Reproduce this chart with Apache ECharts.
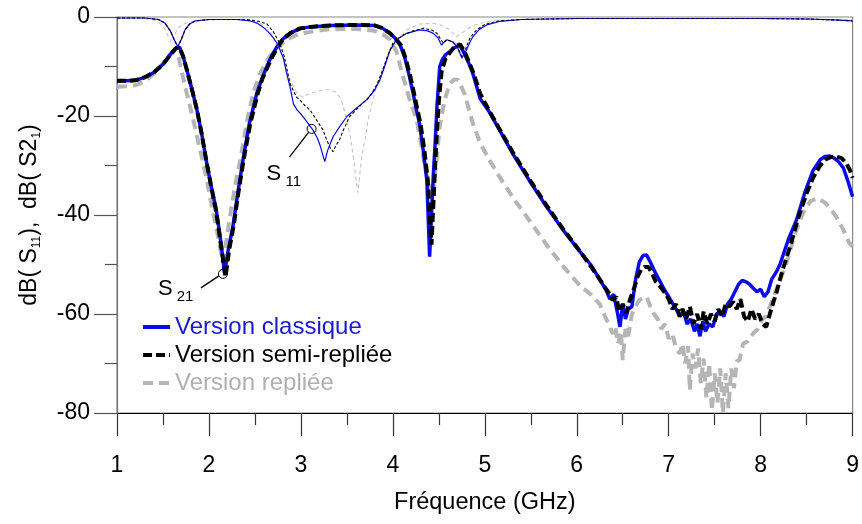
<!DOCTYPE html>
<html><head><meta charset="utf-8">
<script src="https://cdn.jsdelivr.net/npm/echarts@6/dist/echarts.min.js"></script>
<style>html,body{margin:0;padding:0;background:#fff}#c{width:862px;height:524px}</style>
</head><body><div id="c"></div>
<script>
// ---- data (frequency in GHz, magnitude in dB) ----
const seriesNames = ['Version classique', 'Version semi-repliée', 'Version repliée'];
const xTicks = [1, 2, 3, 4, 5, 6, 7, 8, 9];
const yTicks = [-80, -60, -40, -20, 0];

// S21 - Version classique
const s21ClassiqueF = [1.00,1.10,1.20,1.30,1.40,1.50,1.58,1.64,1.68,1.72,1.76,1.82,1.87,1.92,1.97,2.02,2.08,2.13,2.17,2.21,2.26,2.31,2.37,2.44,2.52,2.58,2.63,2.68,2.74,2.80,2.88,2.98,3.10,3.32,3.60,3.80,3.88,3.97,4.03,4.08,4.13,4.18,4.22,4.26,4.29,4.33,4.37,4.40,4.42,4.44,4.46,4.48,4.51,4.54,4.58,4.62,4.67,4.73,4.78,4.83,4.87,4.95,5.05,5.15,5.31,5.50,5.67,5.85,6.03,6.15,6.25,6.32,6.36,6.40,6.44,6.47,6.50,6.53,6.56,6.60,6.64,6.68,6.72,6.76,6.80,6.85,6.90,6.95,7.00,7.04,7.08,7.12,7.16,7.20,7.24,7.28,7.31,7.34,7.37,7.40,7.44,7.48,7.52,7.56,7.60,7.64,7.68,7.72,7.76,7.80,7.84,7.88,7.92,7.96,8.00,8.04,8.08,8.12,8.17,8.21,8.30,8.39,8.48,8.57,8.65,8.70,8.75,8.80,8.85,8.90,8.95,9.00];
const s21ClassiqueDb = [-12.9,-12.9,-12.8,-12.2,-11.2,-9.6,-7.6,-6.3,-6.1,-8.0,-10.7,-15,-18.8,-23.5,-28.9,-33.8,-39,-45.5,-51.7,-47,-42.4,-36,-28.9,-21.5,-15.4,-12.3,-10,-7.9,-6,-4.5,-3.3,-2.4,-2.0,-1.7,-1.6,-1.7,-2.2,-3.3,-4.4,-5.7,-8.2,-12,-15.4,-19,-21.5,-26.9,-33,-48.4,-40,-32,-25.5,-18,-10,-8.5,-7.5,-7.0,-6.2,-5.7,-7.5,-9.5,-11.4,-16.5,-19.2,-22.5,-27.8,-33.5,-38.3,-43,-47.3,-50,-53,-55.2,-57,-56,-59.5,-62.6,-58,-61,-59,-58.5,-53,-49.5,-48.2,-48.1,-49.5,-51.5,-53.2,-55,-56.5,-57.8,-59,-60.5,-59.5,-62,-61,-63.5,-62,-64.5,-61.5,-63.5,-62,-62.6,-60,-59.5,-60.5,-58,-57,-55.5,-54,-53.2,-53.5,-54,-54.8,-55.5,-55,-56.5,-55.5,-53,-51.5,-50,-45,-41,-35.5,-31,-28.8,-28.2,-28.1,-28.5,-29.3,-30.5,-33.2,-36.3];

// S21 - Version semi-repliée
const s21SemiF = [1.00,1.10,1.20,1.30,1.40,1.50,1.58,1.64,1.68,1.72,1.76,1.82,1.87,1.92,1.97,2.02,2.08,2.13,2.18,2.22,2.27,2.32,2.38,2.45,2.53,2.58,2.64,2.69,2.75,2.81,2.89,2.99,3.10,3.32,3.60,3.80,3.88,3.97,4.03,4.09,4.14,4.19,4.23,4.27,4.30,4.34,4.38,4.42,4.44,4.46,4.48,4.50,4.53,4.57,4.62,4.67,4.73,4.78,4.83,4.88,4.95,5.05,5.15,5.31,5.50,5.67,5.85,6.03,6.15,6.25,6.32,6.36,6.39,6.43,6.46,6.50,6.54,6.58,6.62,6.66,6.70,6.74,6.78,6.82,6.86,6.91,6.97,7.00,7.04,7.08,7.12,7.15,7.19,7.23,7.27,7.31,7.35,7.38,7.42,7.46,7.50,7.54,7.58,7.62,7.66,7.70,7.74,7.78,7.82,7.86,7.90,7.94,7.98,8.02,8.06,8.10,8.14,8.17,8.24,8.32,8.41,8.50,8.57,8.64,8.70,8.76,8.82,8.88,8.93,8.97,9.00];
const s21SemiDb = [-12.9,-12.9,-12.8,-12.2,-11.2,-9.6,-7.6,-6.3,-6.2,-8.0,-10.7,-15,-18.8,-23.5,-28.9,-33.8,-39.5,-46,-52.5,-47,-42,-35.5,-28.5,-21.5,-15.5,-12.5,-10,-8,-6,-4.4,-3.2,-2.3,-2.0,-1.7,-1.6,-1.7,-2.2,-3.3,-4.4,-5.7,-8.4,-12,-15.4,-19,-21.5,-26.5,-33,-46,-38,-30,-23,-17,-11,-8.5,-7.2,-6.0,-5.5,-7.0,-9.2,-11.5,-15.5,-19,-22.3,-27.5,-33.2,-38,-42.8,-47.2,-50.3,-53,-55,-56,-57.2,-56.5,-59.5,-58,-59.8,-57,-55,-52.5,-51,-50.5,-50.5,-51.8,-53.5,-54.5,-56,-57,-59,-58,-60.5,-59,-61,-58.5,-62,-60,-63,-59.5,-62,-60,-61.5,-59,-60.5,-58,-58.5,-57.5,-59,-57,-60.5,-61.5,-59,-61,-60,-62,-62.6,-60,-57.5,-55.8,-51,-46.4,-40.5,-35.6,-32.5,-30.2,-28.8,-28.3,-28.2,-28.5,-29.5,-30.9,-32.5];

// S21 - Version repliée
const s21ReplieeF = [1.00,1.10,1.20,1.30,1.40,1.50,1.57,1.63,1.67,1.70,1.76,1.83,1.90,1.97,2.04,2.10,2.15,2.19,2.24,2.29,2.34,2.41,2.48,2.56,2.66,2.75,2.84,2.97,3.10,3.30,3.60,3.80,3.90,3.97,4.04,4.11,4.18,4.26,4.32,4.37,4.43,4.47,4.51,4.56,4.62,4.67,4.71,4.78,4.87,4.95,5.05,5.15,5.31,5.50,5.67,5.85,6.03,6.15,6.25,6.32,6.36,6.39,6.42,6.45,6.48,6.50,6.53,6.56,6.60,6.64,6.68,6.72,6.76,6.80,6.84,6.88,6.92,6.96,7.00,7.04,7.08,7.12,7.15,7.18,7.21,7.23,7.26,7.29,7.32,7.35,7.38,7.41,7.44,7.47,7.50,7.53,7.56,7.59,7.62,7.65,7.68,7.71,7.74,7.77,7.81,7.86,7.92,7.97,8.02,8.06,8.10,8.19,8.28,8.37,8.46,8.54,8.62,8.70,8.76,8.82,8.90,8.96,9.00];
const s21ReplieeDb = [-14.1,-14,-13.8,-13,-11.5,-9.3,-7.6,-6.7,-8.2,-10.7,-15.5,-20.8,-26.5,-32.3,-39,-44.5,-49.5,-45,-39,-33.5,-28.9,-21.5,-15.4,-11.2,-8,-6,-4.6,-3.5,-3.0,-2.5,-2.4,-2.8,-3.6,-4.6,-7,-12,-16.5,-20.8,-27,-32.3,-36.3,-30,-22,-17,-13.4,-12.6,-12.7,-15.5,-21.5,-25.5,-28.9,-32,-36.6,-41.5,-46,-50.3,-54.2,-56,-58,-61,-62.5,-64,-62.5,-66,-63.5,-69.3,-63,-64.5,-60,-58.5,-57.2,-56.8,-56.5,-58.5,-60,-61,-63,-62,-65,-64,-67,-68,-66,-70,-66.5,-75.4,-68,-71,-67,-74,-69,-77,-70,-79.5,-72,-78,-71,-80,-72,-79,-71,-75,-69.5,-69.3,-66,-65.5,-63.9,-63,-61,-60.5,-58.5,-54,-49.8,-44,-39.6,-37.2,-36.6,-37.5,-38.8,-40.3,-43,-45.5,-46.4];

// S11 - Version classique
const s11ClassiqueF = [1.00,1.30,1.45,1.52,1.58,1.62,1.66,1.70,1.74,1.79,1.85,2.00,2.30,2.45,2.53,2.60,2.66,2.70,2.74,2.77,2.81,2.84,2.88,2.92,2.96,3.00,3.05,3.13,3.18,3.21,3.24,3.26,3.29,3.35,3.42,3.50,3.60,3.71,3.80,3.86,3.92,3.97,4.04,4.15,4.29,4.38,4.44,4.49,4.53,4.56,4.59,4.65,4.70,4.75,4.80,4.84,4.87,4.94,5.02,5.16,5.40,6.00,7.00,8.00,8.50,8.80,9.00];
const s11ClassiqueDb = [-0.2,-0.2,-0.5,-1.2,-2.8,-4.5,-6.0,-4.5,-2.6,-1.4,-0.8,-0.5,-0.5,-0.8,-1.3,-2.2,-3.3,-4.2,-5.3,-6.5,-8.3,-11,-14,-17.6,-18.8,-19.6,-20.8,-22.8,-24.5,-26,-28,-29.2,-27,-24.2,-22.2,-20.1,-18.5,-16.8,-14.8,-12.7,-9.5,-6.7,-4.6,-3.3,-2.6,-2.8,-3.3,-4.2,-5.7,-5.0,-4.6,-5.0,-6.0,-8.3,-6.7,-5.0,-4.0,-2.5,-1.6,-0.9,-0.5,-0.3,-0.3,-0.3,-0.4,-0.6,-0.8];

// S11 - Version semi-repliée
const s11SemiF = [1.00,1.30,1.45,1.52,1.58,1.62,1.66,1.70,1.74,1.79,1.85,2.00,2.40,2.55,2.63,2.70,2.77,2.82,2.88,2.95,2.99,3.05,3.10,3.17,3.24,3.28,3.32,3.35,3.38,3.42,3.47,3.53,3.64,3.75,3.83,3.89,3.95,4.00,4.06,4.12,4.22,4.33,4.42,4.48,4.52,4.55,4.58,4.65,4.70,4.75,4.79,4.84,4.91,5.00,5.15,5.40,6.00,7.00,8.00,8.50,8.80,9.00];
const s11SemiDb = [-0.2,-0.2,-0.5,-1.2,-2.8,-4.5,-6.0,-4.5,-2.6,-1.4,-0.8,-0.5,-0.5,-0.9,-1.4,-3.0,-5.3,-8,-13.4,-16.1,-16.8,-18,-18.8,-20.8,-22.8,-24.8,-26.5,-27.2,-26,-24.8,-22.5,-20.1,-18,-16.1,-13.5,-10.7,-7.5,-5.3,-4.3,-3.6,-2.8,-2.3,-2.6,-3.3,-4.5,-5.3,-4.6,-5.0,-6.0,-8.0,-6.5,-4.2,-2.6,-1.5,-0.8,-0.5,-0.3,-0.3,-0.3,-0.4,-0.6,-0.8];

// S11 - Version repliée
const s11ReplieeF = [1.00,1.30,1.42,1.47,1.52,1.56,1.59,1.62,1.65,1.70,1.77,1.90,2.10,2.40,2.55,2.64,2.70,2.76,2.81,2.86,2.92,2.97,3.02,3.08,3.17,3.25,3.32,3.38,3.42,3.46,3.50,3.54,3.57,3.60,3.62,3.64,3.66,3.70,3.73,3.78,3.82,3.88,3.93,3.98,4.04,4.15,4.29,4.45,4.55,4.62,4.69,4.75,4.80,4.87,4.94,5.10,5.40,6.00,7.00,8.00,8.50,8.80,9.00];
const s11ReplieeDb = [-0.2,-0.3,-0.7,-1.3,-2.4,-4,-5.3,-4.2,-2.6,-1.6,-1.1,-0.7,-0.5,-0.6,-1.2,-2.3,-4,-6.2,-8.7,-11.5,-14.1,-15.8,-16.1,-15.6,-15.1,-14.7,-14.7,-15.2,-16.1,-18,-20.8,-24.5,-28.2,-33,-35.5,-32,-28.2,-24.5,-20.8,-17,-14.1,-11,-8.7,-6.3,-4.6,-2.6,-1.4,-1.3,-1.8,-2.6,-4,-3.2,-2.6,-1.8,-1.3,-0.7,-0.5,-0.3,-0.3,-0.3,-0.4,-0.5,-0.6];

// annotation anchors (data coordinates)
const s11Anchor = [3.116, -22.6];
const s21Anchor = [2.152, -51.9];

// ---- chart ----
const zip = (f, d) => f.map((v, i) => [v, d[i]]);
const FONT = '"Liberation Sans", Arial, Helvetica, sans-serif';
const BLUE = '#0a0af0', BLACK = '#000000', GRAY = '#b5b5b5', GRAY_THIN = '#c4c4c4';

const chart = echarts.init(document.getElementById('c'), null, {renderer: 'canvas'});
const base = {type: 'line', showSymbol: false, symbol: 'none', animation: false, emphasis: {disabled: true}};
chart.setOption({
  animation: false,
  backgroundColor: '#fff',
  textStyle: {fontFamily: FONT},
  grid: {left: 117, top: 17, right: 9, bottom: 111, show: true, borderColor: '#888', borderWidth: 1.2},
  legend: {
    orient: 'vertical', left: 136, top: 310, itemWidth: 27, itemHeight: 14, itemGap: 4,
    padding: 5,
    itemStyle: {color: 'rgba(0,0,0,0)', borderColor: 'rgba(0,0,0,0)', borderWidth: 0},
    lineStyle: {width: 4, cap: 'butt'},
    textStyle: {fontSize: 24, fontFamily: FONT, lineHeight: 24},
    data: [
      {name: seriesNames[0], textStyle: {color: '#1a1ad0'}},
      {name: seriesNames[1], textStyle: {color: '#000'}},
      {name: seriesNames[2], textStyle: {color: '#b0b0b0'}}
    ],
    selectedMode: false
  },
  xAxis: {
    type: 'value', min: xTicks[0], max: xTicks[xTicks.length - 1], interval: 1,
    axisLine: {onZero: false, lineStyle: {color: '#000', width: 1.2}},
    axisTick: {inside: false, length: 23, lineStyle: {color: '#333', width: 1.2}},
    minorTick: {show: true, splitNumber: 2, length: 12, lineStyle: {color: '#333', width: 1.2}},
    splitLine: {show: false},
    axisLabel: {fontSize: 23, color: '#000', margin: 41, fontFamily: FONT},
    name: 'Fréquence (GHz)', nameLocation: 'middle', nameGap: 78,
    nameTextStyle: {fontSize: 23.5, color: '#000', fontFamily: FONT}
  },
  yAxis: {
    type: 'value', min: yTicks[0], max: yTicks[yTicks.length - 1], interval: 20,
    axisLine: {show: true, lineStyle: {color: '#777', width: 1.2}},
    axisTick: {show: true, inside: false, length: 23, lineStyle: {color: '#555', width: 1.2}},
    minorTick: {show: true, splitNumber: 2, length: 12, lineStyle: {color: '#555', width: 1.2}},
    splitLine: {show: false},
    axisLabel: {fontSize: 23, color: '#000', margin: 27, fontFamily: FONT},
    name: 'dB( S{sub|11}),  dB( S2{sub|1})', nameLocation: 'middle', nameGap: 74, nameRotate: 90,
    nameTextStyle: {fontSize: 23, color: '#000', fontFamily: FONT, lineHeight: 26,
      rich: {sub: {fontSize: 12, lineHeight: 10, verticalAlign: 'bottom', color: '#000', fontFamily: FONT}}}
  },
  series: [
    Object.assign({}, base, {name: seriesNames[2], data: zip(s21ReplieeF, s21ReplieeDb), z: 2,
      lineStyle: {color: GRAY, width: 4, type: [10, 6], cap: 'butt'}, itemStyle: {color: GRAY}}),
    Object.assign({}, base, {name: seriesNames[0], data: zip(s21ClassiqueF, s21ClassiqueDb), z: 3,
      lineStyle: {color: BLUE, width: 3.5, type: 'solid'}, itemStyle: {color: BLUE}}),
    Object.assign({}, base, {name: seriesNames[1], data: zip(s21SemiF, s21SemiDb), z: 4,
      lineStyle: {color: BLACK, width: 4, type: [9, 4], cap: 'butt'}, itemStyle: {color: BLACK}}),
    Object.assign({}, base, {name: seriesNames[2], data: zip(s11ReplieeF, s11ReplieeDb), z: 5,
      lineStyle: {color: GRAY_THIN, width: 1.1, type: [4, 3]}, itemStyle: {color: GRAY}}),
    Object.assign({}, base, {name: seriesNames[0], data: zip(s11ClassiqueF, s11ClassiqueDb), z: 6,
      lineStyle: {color: BLUE, width: 1.2, type: 'solid'}, itemStyle: {color: BLUE}}),
    Object.assign({}, base, {name: seriesNames[1], data: zip(s11SemiF, s11SemiDb), z: 7,
      lineStyle: {color: BLACK, width: 1.1, type: [3, 2]}, itemStyle: {color: BLACK}})
  ]
});

function annotation(anchor, lineFrom, lineTo, textPos, label) {
  const p = chart.convertToPixel({gridIndex: 0}, anchor);
  return [
    {type: 'circle', shape: {cx: p[0], cy: p[1], r: 4.5}, style: {fill: null, stroke: '#000', lineWidth: 1}, z: 100},
    {type: 'line', shape: {x1: p[0] + lineFrom[0], y1: p[1] + lineFrom[1], x2: p[0] + lineTo[0], y2: p[1] + lineTo[1]},
      style: {stroke: '#000', lineWidth: 1.3}, z: 100},
    {type: 'text', x: p[0] + textPos[0], y: p[1] + textPos[1], z: 100,
      style: {text: '{m|S}{s| ' + label + '}', fill: '#000',
        rich: {m: {fontSize: 22, lineHeight: 30, fontFamily: FONT, fill: '#000'},
               s: {fontSize: 15, lineHeight: 8, verticalAlign: 'bottom', fontFamily: FONT, fill: '#000'}}}}
  ];
}
chart.setOption({graphic: [].concat(
  annotation(s11Anchor, [-22, 28], [-3, 3.5], [-45, 30], '11'),
  annotation(s21Anchor, [-22, 14], [-4, 2], [-65, 0], '21')
)});
</script></body></html>
